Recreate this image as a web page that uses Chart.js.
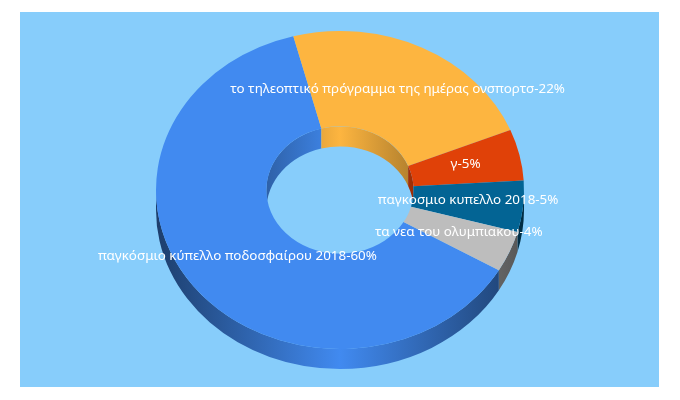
<!DOCTYPE html>
<html lang="el">

<head>
    <meta charset="UTF-8">
    <title>Donut</title>
    <style>
        html, body { margin: 0; padding: 0; background: #fff; }
        canvas { display: block; }
    </style>
</head>

<body>
    <canvas id="donut" width="680" height="400"></canvas>

    <script src="https://cdn.jsdelivr.net/npm/chart.js"></script>
    <script>
        const categories = [
            'παγκόσμιο κύπελλο ποδοσφαίρου 2018',
            'το τηλεοπτικό πρόγραμμα της ημέρας ονσπορτσ',
            'γ',
            'παγκοσμιο κυπελλο 2018',
            'τα νεα του ολυμπιακου'
        ];
        const shares = [60, 22, 5, 5, 4];
        const colors = ['#418af0', '#fdb540', '#e04108', '#036494', '#bdbdbd'];

        const squash = 159 / 184; // the ring is tilted, so it gets flattened
        const depth = 20;
        const PI = Math.PI;

        function shade(hex, f) {
            const n = parseInt(hex.slice(1), 16);
            const c = [n >> 16, (n >> 8) & 255, n & 255].map(v => Math.round(v * f));
            return `rgb(${c[0]},${c[1]},${c[2]})`;
        }

        // parts of [a, b] that fall in the half turn starting at from
        function visibleParts(a, b, from) {
            const parts = [];
            for (let k = -1; k < 3; k++) {
                const s = Math.max(a, from + k * 2 * PI);
                const e = Math.min(b, from + PI + k * 2 * PI);
                if (e > s) parts.push([s, e]);
            }
            return parts;
        }

        function wall(ctx, arc, radius, s, e, color, edge) {
            const grad = ctx.createLinearGradient(arc.x - radius, 0, arc.x + radius, 0);
            grad.addColorStop(0, shade(color, edge));
            grad.addColorStop(0.5, shade(color, 1));
            grad.addColorStop(1, shade(color, edge));
            ctx.fillStyle = grad;
            ctx.beginPath();
            ctx.arc(arc.x, arc.y, radius, s, e);
            ctx.arc(arc.x, arc.y + depth / squash, radius, e, s, true);
            ctx.closePath();
            ctx.fill();
        }

        const tiltPlugin = {
            id: 'tilt',
            beforeDraw(chart) {
                const ctx = chart.ctx;
                ctx.fillStyle = '#87cdfb';
                ctx.fillRect(20, 12, 639, 375);
            },
            beforeDatasetsDraw(chart) {
                const ctx = chart.ctx;
                const arcs = chart.getDatasetMeta(0).data;
                const cy = arcs[0].y;
                ctx.save();
                ctx.translate(0, cy);
                ctx.scale(1, squash);
                ctx.translate(0, -cy);
                arcs.forEach((arc, i) => {
                    visibleParts(arc.startAngle, arc.endAngle, 0).forEach(p => {
                        wall(ctx, arc, arc.outerRadius, p[0], p[1], colors[i], 0.45);
                    });
                    visibleParts(arc.startAngle, arc.endAngle, PI).forEach(p => {
                        wall(ctx, arc, arc.innerRadius, p[0], p[1], colors[i], 0.7);
                    });
                });
            },
            afterDatasetsDraw(chart) {
                const ctx = chart.ctx;
                ctx.restore();
                const arcs = chart.getDatasetMeta(0).data;
                ctx.font = '13.4px "Noto Sans"';
                ctx.fillStyle = '#fff';
                ctx.textAlign = 'center';
                ctx.textBaseline = 'middle';
                arcs.forEach((arc, i) => {
                    const c = arc.getCenterPoint();
                    const y = arc.y + (c.y - arc.y) * squash;
                    ctx.fillText(categories[i] + '-' + shares[i] + '%', c.x, y - 1);
                });
            }
        };

        new Chart(document.getElementById('donut'), {
            type: 'doughnut',
            data: {
                labels: categories,
                datasets: [{
                    data: shares,
                    backgroundColor: colors,
                    borderWidth: 0
                }]
            },
            options: {
                responsive: false,
                animation: false,
                rotation: 120.3,
                cutout: '40%',
                layout: { padding: { left: 156, right: 156, top: 6, bottom: 26 } },
                plugins: {
                    legend: { display: false },
                    tooltip: { enabled: false }
                }
            },
            plugins: [tiltPlugin]
        });
    </script>
</body>

</html>
